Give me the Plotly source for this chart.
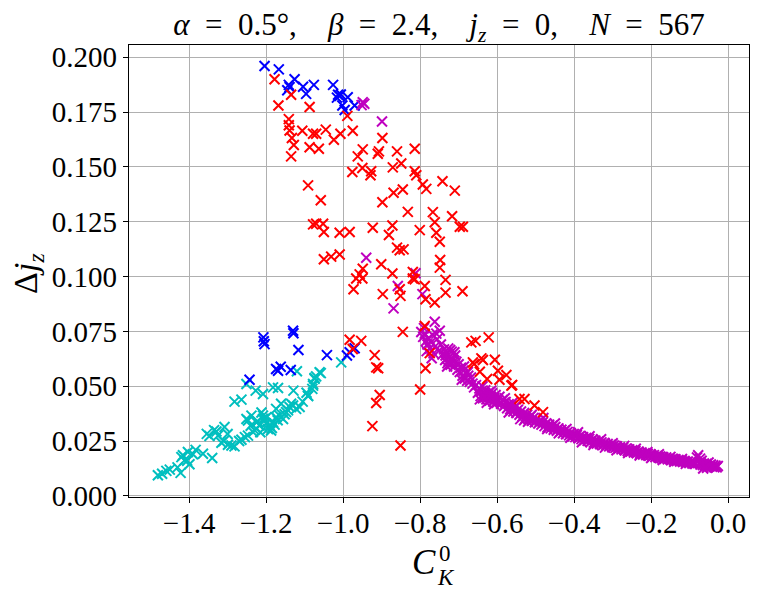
import plotly.graph_objects as go

# ---- data ----
blue_pts = [
    (-1.204, 0.1960), (-1.167, 0.1945), (-1.126, 0.1900), (-1.141, 0.1874), (-1.139, 0.1864),
    (-1.104, 0.1866), (-1.096, 0.1833), (-1.076, 0.1874), (-1.026, 0.1874), (-1.013, 0.1829),
    (-1.009, 0.1824), (-1.016, 0.1816), (-0.988, 0.1818), (-1.002, 0.1780), (-0.996, 0.1760),
    (-0.970, 0.1780), (-1.145, 0.1850), (-1.006, 0.1830),
    (-1.207, 0.0723), (-1.204, 0.0692), (-1.206, 0.0705), (-1.130, 0.0753), (-1.129, 0.0742),
    (-1.116, 0.0665), (-1.169, 0.0571), (-1.162, 0.0589), (-1.174, 0.0579), (-1.136, 0.0574),
    (-1.243, 0.0530), (-1.042, 0.0642), (-0.983, 0.0655), (-0.970, 0.0673), (-0.990, 0.0640),
]

cyan_pts = [
    (-1.481, 0.0094), (-1.470, 0.0101), (-1.459, 0.0114), (-1.422, 0.0105), (-1.420, 0.0177),
    (-1.416, 0.0185), (-1.412, 0.0162), (-1.403, 0.0200), (-1.399, 0.0144), (-1.383, 0.0210),
    (-1.364, 0.0192), (-1.340, 0.0173), (-1.354, 0.0283), (-1.347, 0.0273), (-1.329, 0.0294),
    (-1.325, 0.0275), (-1.308, 0.0314), (-1.316, 0.0242), (-1.299, 0.0233), (-1.282, 0.0226),
    (-1.264, 0.0256), (-1.247, 0.0275), (-1.234, 0.0291), (-1.225, 0.0306), (-1.217, 0.0321),
    (-1.208, 0.0351), (-1.199, 0.0359), (-1.191, 0.0321), (-1.182, 0.0336), (-1.174, 0.0359),
    (-1.165, 0.0366), (-1.156, 0.0351), (-1.148, 0.0382), (-1.139, 0.0405), (-1.130, 0.0412),
    (-1.122, 0.0397), (-1.251, 0.0351), (-1.238, 0.0366), (-1.247, 0.0344), (-1.208, 0.0366),
    (-1.204, 0.0351), (-1.174, 0.0397), (-1.161, 0.0420), (-1.225, 0.0336), (-1.187, 0.0298),
    (-1.282, 0.0430), (-1.264, 0.0439), (-1.251, 0.0510), (-1.227, 0.0480), (-1.208, 0.0465),
    (-1.182, 0.0495), (-1.169, 0.0492), (-1.129, 0.0480), (-1.120, 0.0568), (-1.091, 0.0455),
    (-1.080, 0.0488), (-1.078, 0.0510), (-1.074, 0.0534), (-1.070, 0.0545), (-1.058, 0.0560),
    (-1.005, 0.0609), (-1.061, 0.0564), (-1.074, 0.0538), (-1.078, 0.0503), (-1.091, 0.0457),
    (-1.113, 0.0405), (-1.215, 0.0290), (-1.195, 0.0305), (-1.178, 0.0325), (-1.170, 0.0345),
    (-1.152, 0.0372), (-1.143, 0.0390), (-1.200, 0.0330), (-1.230, 0.0300), (-1.240, 0.0320),
    (-1.255, 0.0268), (-1.270, 0.0250), (-1.290, 0.0230), (-1.300, 0.0282), (-1.310, 0.0250),
    (-1.335, 0.0300), (-1.390, 0.0190), (-1.405, 0.0160), (-1.430, 0.0130), (-1.450, 0.0120),
    (-1.135, 0.0420), (-1.105, 0.0430), (-1.095, 0.0470), (-1.185, 0.0310), (-1.212, 0.0380),
    (-1.222, 0.0340),
]

red_pts = [
    (-1.178, 0.1900), (-1.135, 0.1829), (-1.168, 0.1780), (-1.087, 0.1773), (-1.141, 0.1718),
    (-1.141, 0.1690), (-1.139, 0.1666), (-1.133, 0.1632), (-1.128, 0.1600), (-1.135, 0.1548),
    (-1.106, 0.1665), (-1.087, 0.1590), (-1.063, 0.1583), (-1.078, 0.1651), (-1.070, 0.1651),
    (-1.045, 0.1670), (-1.024, 0.1624), (-1.007, 0.1651), (-0.989, 0.1733), (-0.975, 0.1665),
    (-1.091, 0.1416), (-0.898, 0.1632), (-0.949, 0.1580), (-0.962, 0.1548), (-0.907, 0.1571),
    (-0.910, 0.1560), (-0.860, 0.1571), (-0.814, 0.1583), (-0.976, 0.1477), (-0.950, 0.1495),
    (-0.927, 0.1480), (-0.929, 0.1462), (-0.871, 0.1498), (-0.849, 0.1516), (-0.814, 0.1480),
    (-0.810, 0.1462), (-0.793, 0.1420), (-0.784, 0.1400), (-0.742, 0.1435), (-0.710, 0.1392),
    (-0.845, 0.1397), (-0.869, 0.1382), (-0.898, 0.1339), (-1.058, 0.1348), (-0.832, 0.1295),
    (-0.767, 0.1294), (-0.717, 0.1275), (-0.762, 0.1248), (-0.697, 0.1227), (-0.689, 0.1227),
    (-0.801, 0.1212), (-0.758, 0.1200), (-0.923, 0.1223), (-0.872, 0.1233), (-0.881, 0.1190),
    (-0.983, 0.1203), (-1.009, 0.1200), (-1.078, 0.1238), (-1.070, 0.1241), (-1.052, 0.1241),
    (-1.050, 0.1203), (-0.749, 0.1159), (-0.860, 0.1132), (-0.853, 0.1120), (-0.843, 0.1124),
    (-1.050, 0.1079), (-1.031, 0.1091), (-1.009, 0.1101), (-0.748, 0.1076), (-0.749, 0.1041),
    (-0.901, 0.1056), (-0.949, 0.1036), (-0.957, 0.1010), (-0.872, 0.1014), (-0.819, 0.0991),
    (-0.966, 0.0991), (-0.950, 0.0991), (-0.973, 0.0942), (-0.897, 0.0920), (-0.853, 0.0942),
    (-0.851, 0.0912), (-0.788, 0.0957), (-0.786, 0.0897), (-0.762, 0.0882), (-0.734, 0.0985),
    (-0.734, 0.0927), (-0.690, 0.0933), (-0.983, 0.0712), (-0.953, 0.0707), (-0.975, 0.0670),
    (-0.918, 0.0642), (-0.914, 0.0586), (-0.909, 0.0582), (-0.905, 0.0460), (-0.914, 0.0424),
    (-0.924, 0.0318), (-0.851, 0.0230), (-0.845, 0.0748), (-0.800, 0.0485), (-0.786, 0.0582),
    (-0.788, 0.0775), (-0.775, 0.0651), (-0.667, 0.0700), (-0.656, 0.0707), (-0.622, 0.0723),
    (-0.663, 0.0609), (-0.641, 0.0627), (-0.637, 0.0620), (-0.606, 0.0621), (-0.645, 0.0566),
    (-0.626, 0.0533), (-0.598, 0.0571), (-0.576, 0.0551), (-0.594, 0.0530), (-0.563, 0.0503),
    (-0.542, 0.0442), (-0.529, 0.0442), (-0.660, 0.0601), (-0.561, 0.0506), (-0.503, 0.0412),
    (-0.481, 0.0382), (-0.819, 0.1021), (-0.814, 0.0988),
]

magenta_pts = [
    (-0.949, 0.1795), (-0.945, 0.1788), (-0.952, 0.1782), (-0.899, 0.1707),
    (-0.940, 0.1086), (-0.812, 0.1015), (-0.858, 0.0957), (-0.794, 0.0920), (-0.869, 0.0855),
    (-0.797, 0.0747), (-0.792, 0.0725), (-0.788, 0.0740), (-0.785, 0.0705), (-0.781, 0.0690),
    (-0.778, 0.0720), (-0.775, 0.0672), (-0.772, 0.0700), (-0.768, 0.0735), (-0.765, 0.0650),
    (-0.762, 0.0794), (-0.760, 0.0683), (-0.756, 0.0715), (-0.752, 0.0660), (-0.749, 0.0753),
    (-0.746, 0.0690), (-0.790, 0.0765), (-0.783, 0.0660), (-0.770, 0.0628), (-0.758, 0.0740),
    (-0.742, 0.0645), (-0.738, 0.0668), (-0.735, 0.0620), (-0.732, 0.0650), (-0.729, 0.0605),
    (-0.727, 0.0672), (-0.724, 0.0635), (-0.721, 0.0598), (-0.718, 0.0658), (-0.715, 0.0620),
    (-0.712, 0.0590), (-0.709, 0.0640), (-0.706, 0.0612), (-0.703, 0.0575), (-0.700, 0.0600),
    (-0.722, 0.0665), (-0.730, 0.0590), (-0.714, 0.0610), (-0.734, 0.0640), (-0.719, 0.0628),
    (-0.726, 0.0615), (-0.711, 0.0655),
    (-0.697, 0.0565), (-0.694, 0.0585), (-0.690, 0.0548), (-0.687, 0.0572), (-0.684, 0.0535),
    (-0.681, 0.0560), (-0.678, 0.0525), (-0.675, 0.0548), (-0.671, 0.0520), (-0.668, 0.0540),
    (-0.664, 0.0512), (-0.692, 0.0530), (-0.686, 0.0590), (-0.676, 0.0565),
    (-0.650, 0.0470), (-0.646, 0.0490), (-0.643, 0.0455), (-0.640, 0.0478), (-0.637, 0.0445),
    (-0.634, 0.0465), (-0.631, 0.0482), (-0.628, 0.0440), (-0.625, 0.0458), (-0.622, 0.0472),
    (-0.619, 0.0435), (-0.616, 0.0450), (-0.613, 0.0468), (-0.610, 0.0430), (-0.607, 0.0445),
    (-0.604, 0.0460), (-0.601, 0.0425), (-0.598, 0.0440), (-0.638, 0.0500), (-0.627, 0.0425),
    (-0.615, 0.0480), (-0.645, 0.0440), (-0.632, 0.0450), (-0.620, 0.0455), (-0.608, 0.0418),
    (-0.660, 0.0495), (-0.655, 0.0505),
    (-0.594, 0.0452), (-0.590, 0.0420), (-0.586, 0.0438), (-0.582, 0.0410), (-0.578, 0.0428),
    (-0.574, 0.0400), (-0.570, 0.0418), (-0.566, 0.0395), (-0.562, 0.0410), (-0.558, 0.0385),
    (-0.554, 0.0402), (-0.550, 0.0378), (-0.546, 0.0393), (-0.542, 0.0370), (-0.538, 0.0385),
    (-0.534, 0.0362), (-0.530, 0.0378), (-0.526, 0.0355), (-0.522, 0.0370), (-0.518, 0.0348),
    (-0.514, 0.0362), (-0.510, 0.0342), (-0.506, 0.0355), (-0.502, 0.0336), (-0.580, 0.0445),
    (-0.560, 0.0425), (-0.540, 0.0350), (-0.520, 0.0338),
    (-0.497, 0.0348), (-0.493, 0.0330), (-0.489, 0.0342), (-0.485, 0.0325), (-0.481, 0.0337),
    (-0.477, 0.0318), (-0.473, 0.0330), (-0.469, 0.0313), (-0.465, 0.0325), (-0.461, 0.0308),
    (-0.457, 0.0320), (-0.453, 0.0302), (-0.449, 0.0314), (-0.445, 0.0297), (-0.441, 0.0308),
    (-0.437, 0.0292), (-0.433, 0.0302), (-0.429, 0.0286), (-0.425, 0.0297), (-0.421, 0.0281),
    (-0.417, 0.0292), (-0.413, 0.0276), (-0.409, 0.0287), (-0.405, 0.0271), (-0.401, 0.0282),
    (-0.397, 0.0268), (-0.393, 0.0278), (-0.389, 0.0263), (-0.385, 0.0273), (-0.381, 0.0259),
    (-0.377, 0.0268), (-0.373, 0.0255), (-0.369, 0.0264), (-0.365, 0.0251), (-0.361, 0.0260),
    (-0.357, 0.0247), (-0.353, 0.0256), (-0.349, 0.0243), (-0.345, 0.0252), (-0.341, 0.0239),
    (-0.337, 0.0248), (-0.333, 0.0236), (-0.329, 0.0244), (-0.325, 0.0232), (-0.321, 0.0241),
    (-0.317, 0.0229), (-0.313, 0.0237), (-0.309, 0.0226), (-0.305, 0.0233), (-0.301, 0.0222),
    (-0.297, 0.0230), (-0.293, 0.0219), (-0.289, 0.0226), (-0.285, 0.0215), (-0.281, 0.0222),
    (-0.277, 0.0212), (-0.273, 0.0219), (-0.269, 0.0208), (-0.265, 0.0215), (-0.261, 0.0205),
    (-0.257, 0.0212), (-0.253, 0.0202), (-0.249, 0.0208), (-0.245, 0.0198), (-0.241, 0.0205),
    (-0.237, 0.0195), (-0.233, 0.0202), (-0.229, 0.0192), (-0.225, 0.0198), (-0.221, 0.0189),
    (-0.217, 0.0195), (-0.213, 0.0186), (-0.209, 0.0192), (-0.205, 0.0183), (-0.201, 0.0189),
    (-0.197, 0.0180), (-0.193, 0.0186), (-0.189, 0.0177), (-0.185, 0.0183), (-0.181, 0.0175),
    (-0.177, 0.0180), (-0.173, 0.0172), (-0.169, 0.0177), (-0.165, 0.0169), (-0.161, 0.0175),
    (-0.157, 0.0167), (-0.153, 0.0172), (-0.149, 0.0164), (-0.145, 0.0169), (-0.141, 0.0162),
    (-0.137, 0.0167), (-0.133, 0.0159), (-0.129, 0.0164), (-0.125, 0.0157), (-0.121, 0.0162),
    (-0.117, 0.0155), (-0.113, 0.0159), (-0.109, 0.0152), (-0.105, 0.0157), (-0.101, 0.0150),
    (-0.097, 0.0155), (-0.093, 0.0148), (-0.089, 0.0153), (-0.085, 0.0146), (-0.081, 0.0175),
    (-0.078, 0.0185), (-0.075, 0.0150), (-0.072, 0.0143), (-0.069, 0.0160), (-0.066, 0.0141),
    (-0.063, 0.0148), (-0.060, 0.0139), (-0.057, 0.0146), (-0.054, 0.0137), (-0.051, 0.0152),
    (-0.048, 0.0135), (-0.045, 0.0143), (-0.042, 0.0133), (-0.039, 0.0140), (-0.036, 0.0131),
    (-0.033, 0.0138), (-0.030, 0.0130), (-0.027, 0.0136), (-0.073, 0.0170), (-0.065, 0.0125),
    (-0.055, 0.0128),
    (-0.390, 0.0290), (-0.380, 0.0245), (-0.360, 0.0272), (-0.350, 0.0232), (-0.330, 0.0258),
    (-0.320, 0.0220), (-0.300, 0.0240), (-0.290, 0.0208), (-0.270, 0.0228), (-0.260, 0.0196),
    (-0.240, 0.0215), (-0.230, 0.0184), (-0.210, 0.0200), (-0.200, 0.0173), (-0.180, 0.0190),
    (-0.170, 0.0164), (-0.150, 0.0178), (-0.140, 0.0155), (-0.120, 0.0168), (-0.110, 0.0146),
    (-0.480, 0.0355), (-0.470, 0.0305), (-0.450, 0.0330), (-0.440, 0.0285), (-0.420, 0.0305),
    (-0.410, 0.0265), (-0.570, 0.0380), (-0.550, 0.0412), (-0.530, 0.0345), (-0.510, 0.0370),
]

x_ticks = [-1.4, -1.2, -1.0, -0.8, -0.6, -0.4, -0.2, 0.0]
y_ticks = [0.0, 0.025, 0.05, 0.075, 0.1, 0.125, 0.15, 0.175, 0.2]

series = [
    ("c", cyan_pts, "#00bfbf"),
    ("b", blue_pts, "#0000ff"),
    ("m", magenta_pts, "#bf00bf"),
    ("r", red_pts, "#ff0000"),
]

FONT = "Liberation Serif, DejaVu Serif, serif"

fig = go.Figure()
for name, pts, col in series:
    xs = [p[0] for p in pts]
    ys = [p[1] for p in pts]
    fig.add_trace(go.Scatter(
        x=xs, y=ys, mode="markers", name=name, showlegend=False,
        marker=dict(symbol="x-thin", size=10, color=col,
                    line=dict(width=2, color=col)),
    ))

axis_common = dict(
    showline=True, linecolor="black", linewidth=1.2, mirror=True,
    ticks="outside", ticklen=5, tickwidth=1.2, tickcolor="black",
    showgrid=True, gridcolor="#b0b0b0", gridwidth=1,
    zeroline=False,
    tickfont=dict(family=FONT, size=29, color="black"),
)

sp2 = "\u00a0\u00a0"
sp4 = "\u00a0\u00a0\u00a0\u00a0"
title_text = (f"<i>α</i>{sp2}={sp2}0.5°,{sp4}<i>β</i>{sp2}={sp2}2.4,{sp4}"
              f"<i>j</i><sub><i>z</i></sub>{sp2}={sp2}0,{sp4}<i>N</i>{sp2}={sp2}567")

# the page body adds an 8px offset, so the figure is 8px smaller than the window
fig.update_layout(
    width=751, height=588,
    margin=dict(l=121, r=10, t=37, b=99),
    paper_bgcolor="white", plot_bgcolor="white",
    title=dict(
        text=title_text, xref="paper", x=0.5, xanchor="center",
        yref="container", y=0.972, yanchor="middle",
        font=dict(family=FONT, size=31, color="black"),
    ),
    xaxis=dict(range=[-1.556, 0.054], tickvals=x_ticks, tickformat=".1f",
               ticklabelstandoff=-5, **axis_common),
    yaxis=dict(range=[-0.0005, 0.2056], tickvals=y_ticks, tickformat=".3f", **axis_common),
    annotations=[
        dict(text="<i>C</i>", xref="paper", yref="paper", x=0.476, y=-0.146,
             xanchor="center", yanchor="middle", showarrow=False,
             font=dict(family=FONT, size=35, color="black")),
        dict(text="0", xref="paper", yref="paper", x=0.509, y=-0.124,
             xanchor="center", yanchor="middle", showarrow=False,
             font=dict(family=FONT, size=23, color="black")),
        dict(text="<i>K</i>", xref="paper", yref="paper", x=0.512, y=-0.178,
             xanchor="center", yanchor="middle", showarrow=False,
             font=dict(family=FONT, size=23, color="black")),
        dict(text="Δ<i>j</i><sub><i>z</i></sub>", xref="paper", yref="paper",
             x=-0.163, y=0.4956, xanchor="center", yanchor="middle",
             textangle=-90, showarrow=False,
             font=dict(family=FONT, size=34, color="black")),
    ],
)

fig.write_html("out.html")
